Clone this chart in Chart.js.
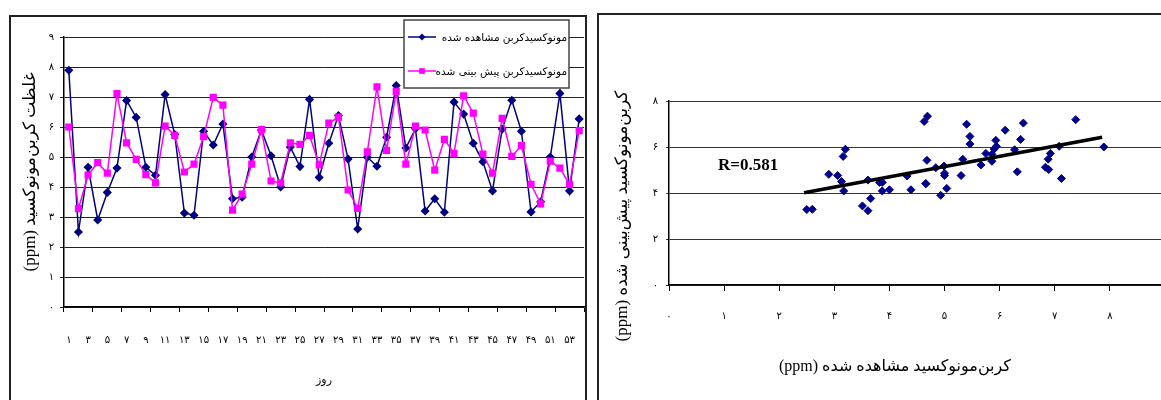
<!DOCTYPE html>
<html>
<head>
<meta charset="utf-8">
<script src="https://cdn.jsdelivr.net/npm/chart.js"></script>
<style>
  html, body { margin: 0; padding: 0; background: #fff; overflow: hidden; width: 1161px; height: 400px; }
  canvas { position: absolute; top: 0; }
  #lineChart { left: 0; }
  #scatterChart { left: 590px; }
  .frame { position: absolute; pointer-events: none; }
  #frame1 { left: 9px; top: 15px; width: 574px; height: 400px; border: 2px solid #222; }
  #frame2 { left: 597px; top: 13px; width: 600px; height: 400px; border: 2px solid #222; }
</style>
</head>
<body>
<canvas id="lineChart" width="600" height="400" dir="rtl"></canvas>
<canvas id="scatterChart" width="580" height="400" dir="rtl"></canvas>
<div class="frame" id="frame1"></div>
<div class="frame" id="frame2"></div>
<script>
// days of measurement
const days = [1, 2, 3, 4, 5, 6, 7, 8, 9, 10, 11, 12, 13, 14, 15, 16, 17, 18, 19, 20,
  21, 22, 23, 24, 25, 26, 27, 28, 29, 30, 31, 32, 33, 34, 35, 36, 37, 38, 39, 40,
  41, 42, 43, 44, 45, 46, 47, 48, 49, 50, 51, 52, 53, 54];

// observed CO (ppm)
const observed = [7.89, 2.5, 4.66, 2.9, 3.82, 4.63, 6.88, 6.32, 4.66, 4.39, 7.08, 5.75, 3.13, 3.06,
  5.86, 5.4, 6.1, 3.61, 3.66, 5.0, 5.9, 5.04, 4.0, 5.33, 4.68, 6.92, 4.32, 5.46, 6.38, 4.93,
  2.6, 4.99, 4.69, 5.66, 7.38, 5.3, 5.94, 3.2, 3.61, 3.16, 6.83, 6.43, 5.46, 4.84, 3.87, 5.93,
  6.89, 5.86, 3.17, 3.51, 5.0, 7.12, 3.87, 6.27];

// predicted CO (ppm)
const predicted = [6.0, 3.28, 4.4, 4.81, 4.46, 7.11, 5.47, 4.92, 4.41, 4.14, 6.03, 5.72, 4.5, 4.76,
  5.68, 6.99, 6.73, 3.23, 3.76, 4.76, 5.91, 4.2, 4.14, 5.47, 5.42, 5.72, 4.74, 6.13, 6.33, 3.9,
  3.29, 5.17, 7.34, 5.22, 7.19, 4.76, 6.03, 5.9, 4.56, 5.59, 5.12, 7.04, 6.46, 5.1, 4.46, 6.29,
  5.02, 5.38, 4.09, 3.44, 4.86, 4.63, 4.09, 5.88];

// trend line ends
const trendX = [2.45, 7.86];
const trendY = [4.01, 6.42];
const rText = 'R=0.581';

const seriesNames = ['مونوکسیدکربن مشاهده شده', 'مونوکسیدکربن پیش بینی شده'];

const fa = n => String(n).replace(/\d/g, d => '۰۱۲۳۴۵۶۷۸۹'[d]);

Chart.defaults.color = '#000';
Chart.defaults.font.family = "'Liberation Serif', 'DejaVu Sans'";
Chart.defaults.animation = false;

// free text (titles, R value)
const notes = {
  id: 'notes',
  afterDraw(chart, args, opts) {
    const ctx = chart.ctx;
    (opts.items || []).forEach(t => {
      ctx.save();
      ctx.translate(t.x, t.y);
      if (t.rotate) ctx.rotate(t.rotate);
      ctx.font = t.font;
      ctx.fillStyle = '#000';
      ctx.textAlign = t.align || 'center';
      ctx.textBaseline = 'middle';
      ctx.direction = t.dir || 'rtl';
      ctx.fillText(t.text, 0, 0);
      ctx.restore();
    });
  }
};

// boxed legend like the excel one
const boxLegend = {
  id: 'boxLegend',
  afterDraw(chart, args, o) {
    if (!o.w) return;
    const ctx = chart.ctx;
    ctx.save();
    ctx.fillStyle = '#fff';
    ctx.fillRect(o.x, o.y, o.w, o.h);
    ctx.strokeStyle = '#444';
    ctx.lineWidth = 1.5;
    ctx.strokeRect(o.x, o.y, o.w, o.h);
    chart.data.datasets.forEach((ds, i) => {
      const y = o.y + o.top + i * o.gap;
      const x0 = o.x + 4, x1 = o.x + 32, xm = (x0 + x1) / 2;
      ctx.strokeStyle = ds.borderColor;
      ctx.lineWidth = ds.borderWidth;
      ctx.beginPath(); ctx.moveTo(x0, y); ctx.lineTo(x1, y); ctx.stroke();
      ctx.fillStyle = ds.borderColor;
      ctx.beginPath();
      if (ds.pointStyle === 'rectRot') {
        const r = ds.pointRadius;
        ctx.moveTo(xm, y - r); ctx.lineTo(xm + r, y); ctx.lineTo(xm, y + r); ctx.lineTo(xm - r, y);
      } else {
        const s = ds.pointRadius * Math.SQRT1_2;
        ctx.rect(xm - s, y - s, 2 * s, 2 * s);
      }
      ctx.fill();
      ctx.font = "10.5px 'DejaVu Sans'";
      ctx.fillStyle = '#000';
      ctx.textAlign = 'right';
      ctx.textBaseline = 'middle';
      ctx.direction = 'rtl';
      ctx.fillText(ds.label, o.x + o.w - 2, y + 1);
    });
    ctx.restore();
  }
};

new Chart(document.getElementById('lineChart'), {
  type: 'line',
  data: {
    labels: days,
    datasets: [
      {
        label: seriesNames[0],
        data: observed,
        borderColor: '#000080',
        backgroundColor: '#000080',
        pointBackgroundColor: '#000080',
        pointBorderColor: '#000080',
        borderWidth: 1.5,
        pointStyle: 'rectRot',
        pointRadius: 3.5,
        tension: 0,
        order: 1
      },
      {
        label: seriesNames[1],
        data: predicted,
        borderColor: '#ff00ff',
        backgroundColor: '#ff00ff',
        pointBackgroundColor: '#ff00ff',
        pointBorderColor: '#ff00ff',
        borderWidth: 1.5,
        pointStyle: 'rect',
        pointRadius: 4,
        tension: 0,
        order: 0
      }
    ]
  },
  options: {
    responsive: false,
    layout: { padding: { left: 0, right: 16, top: 37, bottom: 0 } },
    plugins: {
      legend: { display: false },
      tooltip: { enabled: false },
      boxLegend: { x: 404, y: 20, w: 165, h: 68, top: 17, gap: 34 }
    },
    scales: {
      x: {
        offset: true,
        grid: {
          offset: true,
          drawOnChartArea: false,
          tickLength: 5,
          color: c => (c.index === undefined || c.index % 3 === 0) ? '#000' : 'rgba(0,0,0,0)'
        },
        border: { color: '#000', width: 1.5 },
        ticks: {
          autoSkip: false,
          maxRotation: 0,
          minRotation: 0,
          padding: 22,
          font: { size: 10 },
          callback: (v, i) => i % 2 === 0 ? fa(days[i]) : ''
        },
        title: {
          display: true,
          text: 'روز',
          font: { size: 11 },
          padding: { top: 0, bottom: 13 }
        },
        afterFit: s => { s.height = 93; s.paddingLeft = 0; s.paddingRight = 0; }
      },
      y: {
        min: 0,
        max: 9,
        grid: { color: '#222', tickLength: 4 },
        border: { color: '#000', width: 1.5 },
        ticks: { stepSize: 1, padding: 6, font: { size: 10 }, callback: v => fa(v) },
        title: {
          display: true,
          text: 'غلظت کربن‌مونوکسید (ppm)',
          font: { size: 17 },
          padding: { top: 20, bottom: 0 }
        },
        afterFit: s => { s.width = 64; }
      }
    }
  },
  plugins: [boxLegend]
});

new Chart(document.getElementById('scatterChart'), {
  type: 'scatter',
  data: {
    datasets: [
      {
        type: 'line',
        data: trendX.map((x, i) => ({ x: x, y: trendY[i] })),
        borderColor: '#000',
        borderWidth: 3.5,
        pointRadius: 0,
        order: 0
      },
      {
        data: observed.map((x, i) => ({ x: x, y: predicted[i] })),
        backgroundColor: '#00008b',
        borderColor: '#00008b',
        pointStyle: 'rectRot',
        pointRadius: 4,
        order: 1
      }
    ]
  },
  options: {
    responsive: false,
    layout: { padding: { left: 0, right: 4, top: 101, bottom: 0 } },
    plugins: {
      legend: { display: false },
      tooltip: { enabled: false },
      notes: {
        items: [
          { text: rText, x: 128, y: 166, font: "bold 17px 'Liberation Serif'", align: 'left', dir: 'ltr' },
          { text: 'کربن‌مونوکسید پیش‌بینی شده (ppm)', x: 33, y: 216, font: "17px 'Liberation Serif', 'DejaVu Sans'", rotate: -Math.PI / 2 },
          { text: 'کربن‌مونوکسید مشاهده شده (ppm)', x: 305, y: 367, font: "16px 'Liberation Serif', 'DejaVu Sans'" }
        ]
      }
    },
    scales: {
      x: {
        type: 'linear',
        min: 0,
        max: 9,
        grid: { drawOnChartArea: false, tickLength: 6, color: '#000' },
        border: { color: '#000', width: 1.5 },
        ticks: { stepSize: 1, padding: 19, font: { size: 10 }, callback: v => fa(v) },
        afterFit: s => { s.height = 115; s.paddingLeft = 0; s.paddingRight = 0; }
      },
      y: {
        min: 0,
        max: 8,
        grid: { color: '#333', tickLength: 3 },
        border: { color: '#000', width: 1.5 },
        ticks: { stepSize: 2, padding: 8, font: { size: 10 }, callback: v => fa(v) },
        afterFit: s => { s.width = 79; }
      }
    }
  },
  plugins: [notes]
});
</script>
</body>
</html>
